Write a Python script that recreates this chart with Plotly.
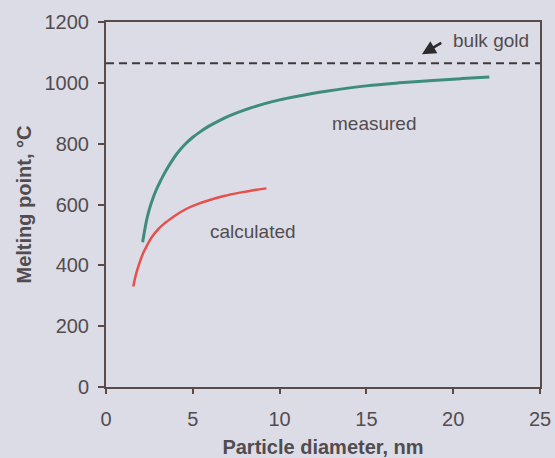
import plotly.graph_objects as go

measured_d = [2.11, 2.34, 2.5, 2.7, 2.88, 3.05, 3.25, 3.5, 3.78, 4.07, 4.5, 5.0, 5.4, 5.88, 6.5, 7.13, 8.0, 9.05, 10.0, 10.96, 12.69, 14.99, 16.9, 18.82, 20.5, 22.08]
measured_t = [476, 549, 585, 620, 646, 667, 690, 716, 742, 766, 795, 821, 838, 856, 875, 892, 911, 930, 944, 955, 972, 990, 1000, 1008, 1014, 1019]
calc_d = [1.57, 1.75, 1.96, 2.15, 2.35, 2.53, 2.75, 3.0, 3.25, 3.49, 3.97, 4.64, 5.3, 5.98, 6.8, 7.71, 8.5, 9.24]
calc_t = [330, 375, 413, 441, 464, 483, 501, 518, 532, 543, 563, 586, 602, 615, 628, 639, 647, 653]
bulk_gold = 1064
x_ticks = [0, 5, 10, 15, 20, 25]
y_ticks = [0, 200, 400, 600, 800, 1000, 1200]

bg = "#dcdce6"
ink = "#524c4e"
axis_col = "#5a4a48"
font = "Liberation Sans, Arial, sans-serif"

fig = go.Figure()
fig.add_trace(go.Scatter(x=measured_d, y=measured_t, mode="lines",
                         line=dict(color="#3d8c7c", width=3, shape="spline", smoothing=1.0), showlegend=False))
fig.add_trace(go.Scatter(x=calc_d, y=calc_t, mode="lines",
                         line=dict(color="#e6504c", width=2.5, shape="spline", smoothing=1.0), showlegend=False))
fig.add_trace(go.Scatter(x=[0, 25], y=[bulk_gold, bulk_gold], mode="lines",
                         line=dict(color="#3e383a", width=2, dash="8px,5px"), showlegend=False))

fig.add_annotation(x=15.48, y=865, text="measured", showarrow=False, font=dict(size=19, color=ink, family=font))
fig.add_annotation(x=8.45, y=510, text="calculated", showarrow=False, font=dict(size=19, color=ink, family=font))
fig.add_annotation(x=22.2, y=1138, text="bulk gold", showarrow=False, font=dict(size=19, color=ink, family=font))
fig.add_annotation(x=18.2, y=1094, ax=19.4, ay=1134, axref="x", ayref="y", text="", showarrow=True,
                   arrowhead=2, arrowsize=1.1, arrowwidth=2.5, arrowcolor="#2e2a2c")

fig.update_layout(
    width=555, height=458,
    margin=dict(l=106, r=15, t=22, b=71),
    paper_bgcolor=bg, plot_bgcolor=bg,
    font=dict(family=font, color=ink, size=20),
    xaxis=dict(range=[0, 25], tickvals=x_ticks, showgrid=False, zeroline=False, automargin=False,
               showline=True, linecolor=axis_col, linewidth=2, mirror=True,
               ticks="outside", ticklen=5, tickcolor=axis_col, tickwidth=1.5,
               tickfont=dict(size=20, color=ink), ticklabelstandoff=8,
               title=dict(text="<b>Particle diameter, nm</b>", font=dict(size=20, color=ink), standoff=12)),
    yaxis=dict(range=[0, 1200], tickvals=y_ticks, showgrid=False, zeroline=False, automargin=False,
               showline=True, linecolor=axis_col, linewidth=2, mirror=True,
               ticks="outside", ticklen=6, tickcolor=axis_col, tickwidth=1.5,
               tickfont=dict(size=20, color=ink), ticklabelstandoff=5,
               title=dict(text="<b>Melting point, °C</b>", font=dict(size=20, color=ink), standoff=8)),
)

fig.write_html("out.html")
